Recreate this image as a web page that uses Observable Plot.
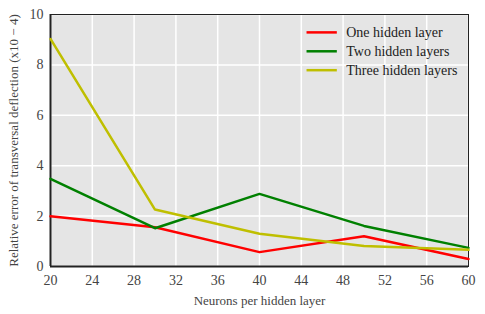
<!DOCTYPE html>
<html><head><meta charset="utf-8">
<script src="https://cdn.jsdelivr.net/npm/d3@7"></script>
<script src="https://cdn.jsdelivr.net/npm/@observablehq/plot@0.6"></script>
<style>body{margin:0;background:#fff}</style>
</head><body><div id="chart"></div>
<script>
const neurons = [20, 30, 40, 50, 60];
const oneLayer = [1.99, 1.56, 0.57, 1.20, 0.30];
const twoLayers = [3.48, 1.52, 2.88, 1.61, 0.74];
const threeLayers = [9.03, 2.26, 1.30, 0.81, 0.66];
const seriesNames = ["One hidden layer", "Two hidden layers", "Three hidden layers"];
const seriesColors = ["#ff0000", "#008000", "#bfbf00"];
const xTicks = [20, 24, 28, 32, 36, 40, 44, 48, 52, 56, 60];
const yTicks = [0, 2, 4, 6, 8, 10];

const allSeries = [oneLayer, twoLayers, threeLayers];
const data = allSeries.flatMap((vals, si) => vals.map((v, i) => ({x: neurons[i], y: v, s: seriesNames[si]})));
const legend = seriesNames.map((n, i) => ({name: n, i}));

const chart = Plot.plot({
  width: 485, height: 314,
  marginLeft: 50, marginRight: 17, marginTop: 14, marginBottom: 48,
  style: {fontSize: "14px", color: "#444", background: "#fff"},
  x: {domain: [20, 60]},
  y: {domain: [0, 10]},
  color: {domain: seriesNames, range: seriesColors},
  marks: [
    Plot.frame({fill: "#e5e5e5"}),
    Plot.gridX(xTicks, {stroke: "#fff", strokeOpacity: 1, strokeWidth: 1.5}),
    Plot.gridY(yTicks, {stroke: "#fff", strokeOpacity: 1, strokeWidth: 1.5}),
    Plot.frame({stroke: "#222", strokeWidth: 1}),
    Plot.ruleX([20], {stroke: "#222", strokeWidth: 2}),
    Plot.ruleY([0], {stroke: "#222", strokeWidth: 2}),
    Plot.line(data, {x: "x", y: "y", z: "s", stroke: "s", strokeWidth: 2.5}),
    Plot.axisX(xTicks, {tickSize: 0, tickPadding: 9, fontSize: 14, fill: "#444", label: null}),
    Plot.axisX({ticks: [], tickSize: 0, fontSize: 13, fill: "#444", label: "Neurons per hidden layer", labelAnchor: "center", labelOffset: 38, labelArrow: "none"}),
    Plot.axisY(yTicks, {tickSize: 0, tickPadding: 7, fontSize: 14, fill: "#444", label: null}),
    Plot.axisY({ticks: [], tickSize: 0, fontSize: 13, fill: "#444", label: "Relative error of transversal deflection (x10 − 4)", labelAnchor: "center", labelOffset: 42, labelArrow: "none"}),
    Plot.link(legend, {x1: () => 44.5, x2: () => 47.4, y1: d => 9.29 - d.i * 0.75, y2: d => 9.29 - d.i * 0.75, stroke: d => d.name, strokeWidth: 2.5}),
    Plot.text(legend, {x: () => 48.3, y: d => 9.29 - d.i * 0.75, text: "name", textAnchor: "start", fill: "#222", fontSize: 14})
  ]
});
chart.style.fontFamily = "Liberation Serif";
chart.querySelectorAll("g, text").forEach(el => { el.style.fontFamily = "Liberation Serif"; });
document.getElementById("chart").appendChild(chart);
</script></body></html>
